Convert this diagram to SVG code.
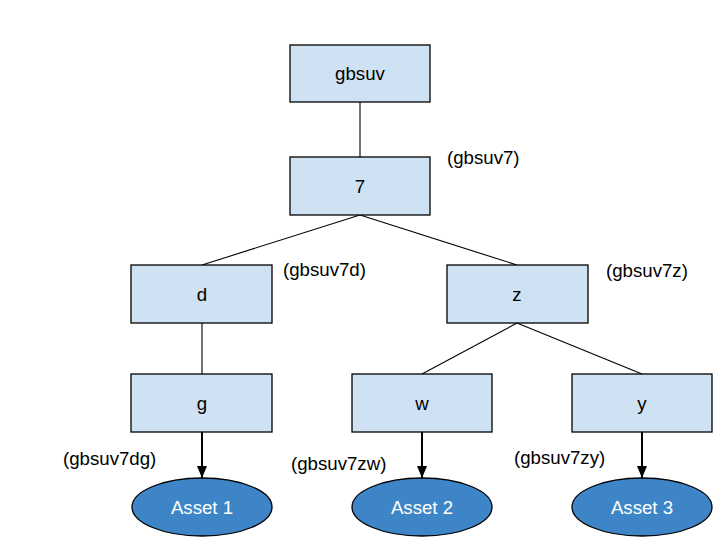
<svg xmlns="http://www.w3.org/2000/svg" width="720" height="540" viewBox="0 0 720 540">
<style>
.box{fill:#cfe2f3;stroke:#000;stroke-width:1.3}
.ell{fill:#3d85c6;stroke:#000;stroke-width:1.3}
text{font-family:"Liberation Sans",Arial,sans-serif;font-size:18.67px}
.c{text-anchor:middle;fill:#000}
.w{text-anchor:middle;fill:#fff}
.lbl{fill:#000}
.ln{stroke:#000;stroke-width:1.1;fill:none}
.ar{stroke:#000;stroke-width:2;fill:none}
</style>
<defs>
<marker id="ah" viewBox="0 0 12 10" refX="12" refY="5" markerWidth="12" markerHeight="10" markerUnits="userSpaceOnUse" orient="auto">
<path d="M0,0 L12,5 L0,10 Z" fill="#000"/>
</marker>
</defs>
<rect width="720" height="540" fill="#fff"/>
<g id="connectors">
<line class="ln" x1="360" y1="102" x2="360" y2="157"/>
<line class="ln" x1="360" y1="215" x2="202" y2="265"/>
<line class="ln" x1="360" y1="215" x2="517" y2="265"/>
<line class="ln" x1="202" y1="323" x2="202" y2="374"/>
<line class="ln" x1="517" y1="323" x2="422" y2="374"/>
<line class="ln" x1="517" y1="323" x2="642" y2="374"/>
<line class="ar" x1="202" y1="432" x2="202" y2="478" marker-end="url(#ah)"/>
<line class="ar" x1="422" y1="432" x2="422" y2="478" marker-end="url(#ah)"/>
<line class="ar" x1="642" y1="432" x2="642" y2="478" marker-end="url(#ah)"/>
</g>
<g id="n-gbsuv"><rect class="box" x="290" y="45" width="140" height="57"/><text class="c" x="360" y="80">gbsuv</text></g>
<g id="n-7"><rect class="box" x="290" y="157" width="140" height="58"/><text class="c" x="360" y="193">7</text><text class="lbl" x="447" y="164">(gbsuv7)</text></g>
<g id="n-d"><rect class="box" x="131" y="265" width="141" height="58"/><text class="c" x="202" y="301">d</text><text class="lbl" x="283" y="276">(gbsuv7d)</text></g>
<g id="n-z"><rect class="box" x="447" y="265" width="141" height="58"/><text class="c" x="517" y="301">z</text><text class="lbl" x="606" y="277">(gbsuv7z)</text></g>
<g id="n-g"><rect class="box" x="131" y="374" width="141" height="58"/><text class="c" x="202" y="410">g</text><text class="lbl" x="63" y="465">(gbsuv7dg)</text></g>
<g id="n-w"><rect class="box" x="352" y="374" width="140" height="58"/><text class="c" x="422" y="410">w</text><text class="lbl" x="291" y="470">(gbsuv7zw)</text></g>
<g id="n-y"><rect class="box" x="572" y="374" width="140" height="58"/><text class="c" x="642" y="410">y</text><text class="lbl" x="514" y="464">(gbsuv7zy)</text></g>
<g id="a1"><ellipse class="ell" cx="202" cy="507" rx="70" ry="29"/><text class="w" x="202" y="514">Asset 1</text></g>
<g id="a2"><ellipse class="ell" cx="422" cy="507" rx="70" ry="29"/><text class="w" x="422" y="514">Asset 2</text></g>
<g id="a3"><ellipse class="ell" cx="642" cy="507" rx="70" ry="29"/><text class="w" x="642" y="514">Asset 3</text></g>
</svg>
